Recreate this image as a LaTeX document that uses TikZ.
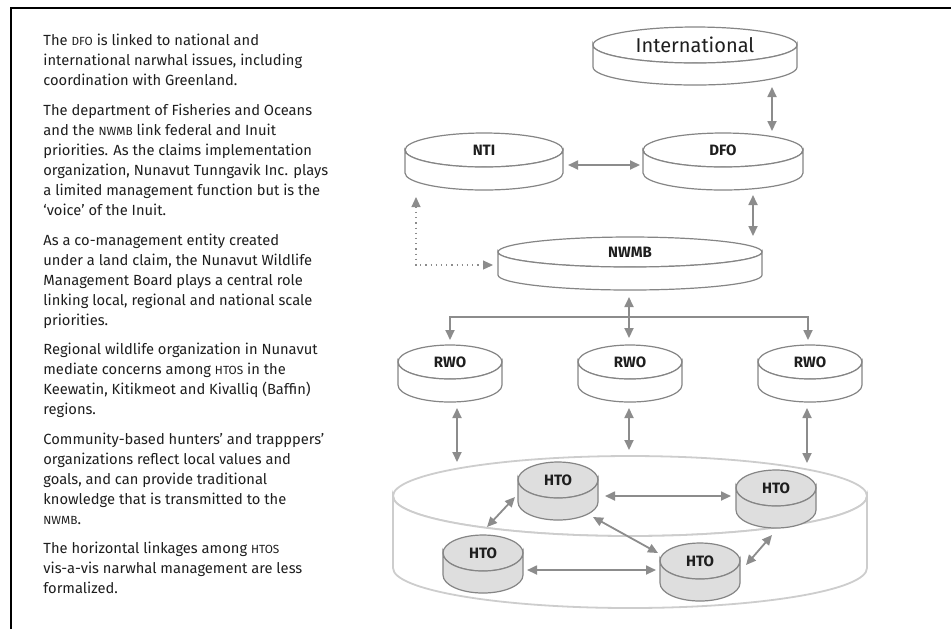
\documentclass[tikz,border=0pt]{standalone}
\usepackage{fontspec}
\setmainfont{Fira Sans}
\usetikzlibrary{arrows.meta,shapes.geometric}

\definecolor{textgrey}{HTML}{1E1E1E}
\definecolor{discline}{HTML}{858585}
\definecolor{linkgrey}{HTML}{8C8C8C}
\definecolor{htofill}{HTML}{DEDEDE}
\definecolor{htoline}{HTML}{858585}
\definecolor{layerline}{HTML}{CDCDCD}

\newcommand{\smc}[1]{{\fontsize{5.9}{10}\selectfont #1}}
% name, style, x, y, rx, ry, depth, label
\newcommand{\disc}[8]{%
  \node[discface, #2, minimum width=#5pt, minimum height=#6pt] (#1) at (#3,-#4) {#8};
  \draw[#2] (#1.west) -- ++(0,-#7)
    arc[start angle=180, end angle=360, x radius=#5*0.5pt, y radius=#6*0.5pt]
    -- (#1.east)
    arc[start angle=0, end angle=-180, x radius=#5*0.5pt, y radius=#6*0.5pt] -- cycle;
}

\tikzset{
  discface/.style={ellipse, inner sep=0pt, outer sep=0pt,
    font=\fontsize{7.5}{9}\selectfont\bfseries, text=textgrey},
  plaindisc/.style={draw=discline, fill=white, line width=0.6pt},
  htodisc/.style={draw=htoline, fill=htofill, line width=0.6pt},
  layerdisc/.style={draw=layerline, fill=white, line width=0.9pt},
  tip/.tip={Triangle[length=5pt,width=4.5pt]},
  link/.style={draw=linkgrey, line width=0.9pt, tip-tip},
  onelink/.style={draw=linkgrey, line width=0.9pt, -tip},
  dotlink/.style={link, line width=0.6pt, dotted},
  notes/.style={align=left, inner sep=0pt, text=textgrey,
    font=\fontsize{7.35}{10}\selectfont}
}

\begin{document}
\begin{tikzpicture}[x=0.5pt, y=0.5pt]
  \useasboundingbox (0,0) rectangle (951,-629);
  \draw[line width=1.3pt] (11,-629) -- (11,-8) -- (951,-8);

  % notes
  \node[notes, anchor=north west] (notes) at (43,-34) {%
    The \smc{DFO} is linked to national and\\
    international narwhal issues, including\\
    coordination with Greenland.\\[4.8pt]
    The department of Fisheries and Oceans\\
    and the \smc{NWMB} link federal and Inuit\\
    priorities. As the claims implementation\\
    organization, Nunavut Tunngavik Inc. plays\\
    a limited management function but is the\\
    `voice' of the Inuit.\\[4.8pt]
    As a co-management entity created\\
    under a land claim, the Nunavut Wildlife\\
    Management Board plays a central role\\
    linking local, regional and national scale\\
    priorities.\\[4.8pt]
    Regional wildlife organization in Nunavut\\
    mediate concerns among \smc{HTOS} in the\\
    Keewatin, Kitikmeot and Kivalliq (Baffin)\\
    regions.\\[4.8pt]
    Community-based hunters' and trapppers'\\
    organizations reflect local values and\\
    goals, and can provide traditional\\
    knowledge that is transmitted to the\\
    \smc{NWMB}.\\[4.8pt]
    The horizontal linkages among \smc{HTOS}\\
    vis-a-vis narwhal management are less\\
    formalized.};

  % upper levels
  \disc{intl}{plaindisc}{695}{45}{102}{18}{22}{\fontsize{10}{12}\selectfont\mdseries International}
  \disc{nti}{plaindisc}{484}{150}{79}{17}{23}{NTI}
  \disc{dfo}{plaindisc}{723}{150}{80}{17}{23}{DFO}
  \disc{nwmb}{plaindisc}{630}{252}{132}{15}{23}{NWMB}
  \disc{rwo1}{plaindisc}{450}{362}{52}{17}{23}{RWO}
  \disc{rwo2}{plaindisc}{630}{362}{52}{17}{23}{RWO}
  \disc{rwo3}{plaindisc}{810}{362}{52}{17}{23}{RWO}

  % community level
  \disc{htos}{layerdisc}{630}{496}{237}{40}{72}{}
  \disc{hto1}{htodisc}{558}{480}{40}{18}{22}{HTO}
  \disc{hto2}{htodisc}{776}{488}{40}{18}{22}{HTO}
  \disc{hto3}{htodisc}{483}{553}{40}{18}{22}{HTO}
  \disc{hto4}{htodisc}{700}{561}{40}{18}{22}{HTO}

  % links
  \draw[link] ([shift={(77,-24)}]intl.south) -- ([shift={(49,2)}]dfo.north);
  \draw[link] ([shift={(5,-15)}]nti.east) -- ([shift={(-3,-15)}]dfo.west);
  \draw[link] ([shift={(30,-28)}]dfo.south) -- ([shift={(123,1)}]nwmb.north);
  \draw[dotlink] ([shift={(11,-47)}]nti.west) |- ([shift={(-5,-13)}]nwmb.west);

  \coordinate (bar) at ([shift={(0,-50)}]nwmb.south);
  \draw[onelink] (bar) -| ([shift={(0,5)}]rwo1.north);
  \draw[onelink] (bar) -| ([shift={(-2,5)}]rwo3.north);
  \draw[link] ([shift={(-1,-30)}]nwmb.south) -- ([shift={(-1,7)}]rwo2.north);

  \draw[link] ([shift={(7,-29)}]rwo1.south) -- ([shift={(-173,-6)}]htos.north);
  \draw[link] ([shift={(-1,-29)}]rwo2.south) -- ([shift={(-1,6)}]htos.north);
  \draw[link] ([shift={(-3,-29)}]rwo3.south) -- ([shift={(177,-7)}]htos.north);

  \draw[link] ([shift={(7,-16)}]hto1.east) -- ([shift={(-5,-8)}]hto2.west);
  \draw[link] ([shift={(4,-17)}]hto3.east) -- ([shift={(-4,-9)}]hto4.west);
  \draw[link] ([shift={(-3,-17)}]hto1.west) -- ([shift={(4,8)}]hto3.north);
  \draw[link] ([shift={(35,-19)}]hto1.south) -- ([shift={(-42,-10)}]hto4.north);
  \draw[link] ([shift={(-4,-29)}]hto2.south) -- ([shift={(6,-4)}]hto4.east);
\end{tikzpicture}
\end{document}
